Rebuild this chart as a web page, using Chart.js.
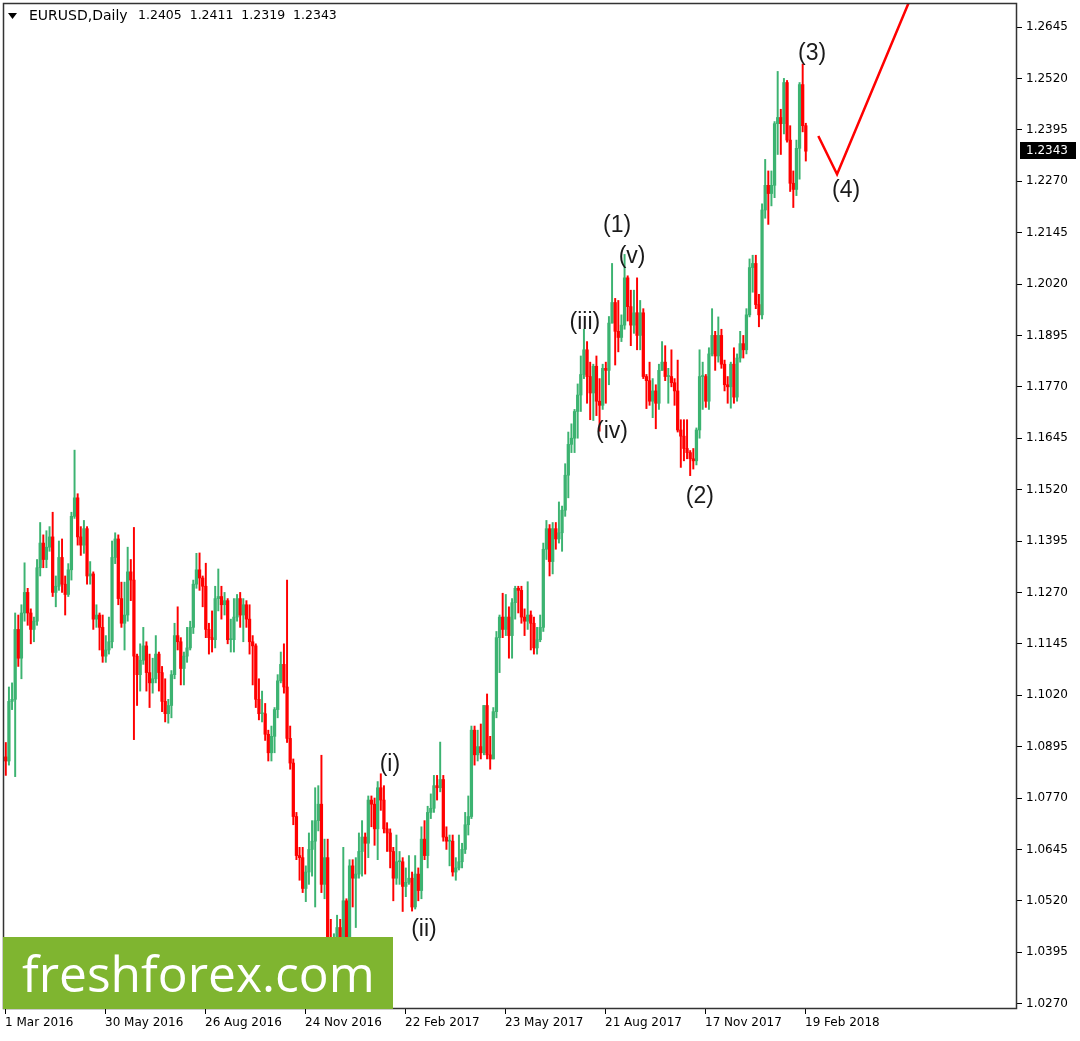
<!DOCTYPE html>
<html>
<head>
<meta charset="utf-8">
<title>EURUSD Daily</title>
<script src="https://cdn.jsdelivr.net/npm/chart.js@4.4.0/dist/chart.umd.min.js"></script>
<style>
  html, body { margin: 0; padding: 0; background: #fff; }
  canvas { display: block; }
</style>
</head>
<body>
<canvas id="grafico" width="1080" height="1041"></canvas>
<script>
// velas de 2 dias (apertura = cierre anterior)
var firstOpen = 1.0870;
var closes = [
  1.0860,1.1005,1.1010,1.1180,1.1110,1.1220,1.1270,1.1220,1.1180,1.1200,
  1.1330,1.1390,1.1350,1.1380,1.1405,1.1270,1.1285,1.1355,1.1290,1.1265,
  1.1325,1.1455,1.1500,1.1405,1.1385,1.1425,1.1310,1.1315,1.1205,1.1215,
  1.1185,1.1115,1.1130,1.1150,1.1355,1.1400,1.1255,1.1195,1.1215,1.1320,
  1.1300,1.1115,1.1070,1.1105,1.1140,1.1075,1.1050,1.1060,1.1120,1.1075,
  1.1005,1.0975,1.0995,1.1070,1.1165,1.1150,1.1085,1.1115,1.1135,1.1185,
  1.1290,1.1325,1.1305,1.1285,1.1180,1.1160,1.1155,1.1255,1.1260,1.1240,
  1.1250,1.1155,1.1155,1.1210,1.1255,1.1215,1.1240,1.1205,1.1150,1.1140,
  1.1010,1.0975,1.0975,1.0925,1.0880,1.0920,1.0985,1.1055,1.1095,1.1040,
  1.0915,1.0855,1.0725,1.0630,1.0625,1.0550,1.0590,1.0645,1.0665,1.0715,
  1.0755,1.0560,1.0625,1.0420,1.0395,1.0425,1.0455,1.0405,1.0520,1.0405,
  1.0605,1.0575,1.0585,1.0640,1.0675,1.0660,1.0765,1.0755,1.0695,1.0795,
  1.0765,1.0695,1.0685,1.0640,1.0575,1.0615,1.0615,1.0555,1.0565,1.0575,
  1.0505,1.0585,1.0545,1.0670,1.0630,1.0735,1.0745,1.0800,1.0795,1.0815,
  1.0675,1.0665,1.0665,1.0590,1.0600,1.0615,1.0645,1.0705,1.0725,1.0935,
  1.0875,1.0895,1.0880,1.0995,1.0875,1.0865,1.0980,1.1160,1.1210,1.1180,
  1.1210,1.1165,1.1245,1.1280,1.1275,1.1210,1.1200,1.1215,1.1195,1.1135,
  1.1155,1.1185,1.1375,1.1425,1.1345,1.1425,1.1400,1.1415,1.1470,1.1555,
  1.1630,1.1645,1.1710,1.1750,1.1800,1.1860,1.1795,1.1755,1.1820,1.1735,
  1.1725,1.1815,1.1810,1.1925,1.1975,1.1905,1.1890,1.1920,1.2035,1.1965,
  1.1920,1.1950,1.1895,1.1950,1.1795,1.1785,1.1735,1.1760,1.1730,1.1810,
  1.1830,1.1795,1.1795,1.1780,1.1760,1.1665,1.1650,1.1620,1.1610,1.1595,
  1.1590,1.1665,1.1795,1.1795,1.1735,1.1850,1.1895,1.1845,1.1895,1.1825,
  1.1775,1.1770,1.1825,1.1745,1.1840,1.1875,1.1860,1.1945,1.2060,1.2070,
  1.1970,1.1945,1.2200,1.2260,1.2240,1.2260,1.2410,1.2425,1.2410,1.2510,
  1.2370,1.2265,1.2250,1.2350,1.2505,1.2405,1.2343
];
var highs = [
  1.0905,1.1040,1.1050,1.1220,1.1215,1.1240,1.1342,1.1280,1.1230,1.1210,
  1.1350,1.1440,1.1410,1.1420,1.1430,1.1465,1.1310,1.1395,1.1400,1.1310,
  1.1340,1.1465,1.1616,1.1510,1.1430,1.1445,1.1430,1.1345,1.1320,1.1240,
  1.1220,1.1215,1.1165,1.1210,1.1395,1.1415,1.1410,1.1295,1.1295,1.1380,
  1.1350,1.1428,1.1120,1.1145,1.1185,1.1150,1.1120,1.1110,1.1165,1.1125,
  1.1090,1.1060,1.1010,1.1080,1.1195,1.1235,1.1160,1.1125,1.1185,1.1200,
  1.1300,1.1365,1.1366,1.1310,1.1341,1.1195,1.1225,1.1285,1.1327,1.1285,
  1.1270,1.1255,1.1205,1.1255,1.1265,1.1270,1.1255,1.1250,1.1240,1.1165,
  1.1145,1.1060,1.1030,1.1000,1.0935,1.0945,1.0990,1.1070,1.1125,1.1145,
  1.1300,1.0945,1.0865,1.0735,1.0650,1.0650,1.0605,1.0685,1.0715,1.0795,
  1.0800,1.0874,1.0670,1.0670,1.0475,1.0440,1.0485,1.0475,1.0650,1.0525,
  1.0620,1.0620,1.0625,1.0685,1.0715,1.0685,1.0775,1.0775,1.0770,1.0810,
  1.0829,1.0800,1.0710,1.0695,1.0650,1.0680,1.0640,1.0625,1.0600,1.0630,
  1.0590,1.0630,1.0600,1.0700,1.0715,1.0750,1.0780,1.0825,1.0825,1.0906,
  1.0825,1.0700,1.0680,1.0680,1.0625,1.0680,1.0660,1.0735,1.0775,1.0945,
  1.0945,1.0935,1.0950,1.0995,1.1023,1.0920,1.0990,1.1175,1.1215,1.1268,
  1.1265,1.1235,1.1255,1.1285,1.1285,1.1285,1.1230,1.1296,1.1225,1.1210,
  1.1185,1.1215,1.1390,1.1445,1.1435,1.1440,1.1440,1.1490,1.1480,1.1583,
  1.1660,1.1680,1.1715,1.1777,1.1845,1.1910,1.1880,1.1830,1.1825,1.1845,
  1.1790,1.1825,1.1830,1.1941,1.2070,1.1985,1.1980,1.1945,1.2092,1.2040,
  1.2005,1.2005,1.2035,1.1980,1.1960,1.1800,1.1830,1.1790,1.1775,1.1825,
  1.1880,1.1870,1.1815,1.1860,1.1790,1.1835,1.1690,1.1690,1.1690,1.1615,
  1.1620,1.1670,1.1860,1.1830,1.1800,1.1865,1.1960,1.1905,1.1940,1.1910,
  1.1835,1.1795,1.1830,1.1865,1.1850,1.1905,1.1895,1.1960,1.2081,1.2090,
  1.2090,1.1995,1.2215,1.2323,1.2295,1.2295,1.2415,1.2537,1.2445,1.2520,
  1.2515,1.2405,1.2295,1.2370,1.2510,1.2555,1.2411
];
var lows = [
  1.0825,1.0850,1.0985,1.0822,1.1090,1.1060,1.1200,1.1190,1.1145,1.1150,
  1.1190,1.1310,1.1330,1.1330,1.1370,1.1260,1.1235,1.1275,1.1270,1.1215,
  1.1260,1.1300,1.1450,1.1385,1.1360,1.1365,1.1290,1.1290,1.1180,1.1185,
  1.1130,1.1100,1.1100,1.1120,1.1135,1.1340,1.1240,1.1185,1.1130,1.1200,
  1.1250,1.0912,1.0995,1.1030,1.1095,1.1030,1.0990,1.1025,1.1050,1.1030,
  1.0980,1.0955,1.0952,1.0965,1.1060,1.1130,1.1045,1.1045,1.1100,1.1130,
  1.1170,1.1280,1.1275,1.1235,1.1160,1.1120,1.1125,1.1135,1.1225,1.1205,
  1.1215,1.1145,1.1125,1.1125,1.1200,1.1185,1.1150,1.1185,1.1120,1.1045,
  1.0990,1.0960,1.0955,1.0910,1.0860,1.0860,1.0880,1.0965,1.1050,1.1025,
  1.0905,1.0840,1.0705,1.0620,1.0570,1.0540,1.0518,1.0560,1.0580,1.0505,
  1.0690,1.0540,1.0525,1.0367,1.0390,1.0352,1.0410,1.0375,1.0395,1.0340,
  1.0390,1.0505,1.0455,1.0575,1.0580,1.0585,1.0625,1.0700,1.0655,1.0620,
  1.0740,1.0685,1.0640,1.0600,1.0520,1.0560,1.0560,1.0494,1.0530,1.0560,
  1.0495,1.0500,1.0520,1.0525,1.0620,1.0600,1.0720,1.0735,1.0765,1.0785,
  1.0665,1.0645,1.0605,1.0580,1.0570,1.0595,1.0600,1.0635,1.0680,1.0720,
  1.0850,1.0860,1.0865,1.0875,1.0865,1.0840,1.0865,1.0965,1.1075,1.1160,
  1.1165,1.1110,1.1110,1.1205,1.1220,1.1195,1.1165,1.1180,1.1130,1.1120,
  1.1120,1.1150,1.1175,1.1350,1.1310,1.1315,1.1375,1.1390,1.1370,1.1455,
  1.1500,1.1610,1.1610,1.1645,1.1710,1.1790,1.1730,1.1690,1.1688,1.1700,
  1.1662,1.1715,1.1730,1.1775,1.1925,1.1823,1.1855,1.1880,1.1910,1.1930,
  1.1870,1.1900,1.1860,1.1860,1.1790,1.1717,1.1725,1.1695,1.1668,1.1715,
  1.1810,1.1785,1.1730,1.1770,1.1725,1.1660,1.1574,1.1590,1.1595,1.1554,
  1.1570,1.1580,1.1645,1.1715,1.1720,1.1715,1.1845,1.1810,1.1830,1.1815,
  1.1760,1.1730,1.1718,1.1730,1.1735,1.1830,1.1840,1.1850,1.1940,1.2000,
  1.1960,1.1916,1.1935,1.2180,1.2165,1.2210,1.2230,1.2335,1.2335,1.2385,
  1.2365,1.2245,1.2206,1.2235,1.2275,1.2390,1.2319
];

// ejes
var xTickBars = [-0.25, 31.75, 63.75, 95.75, 127.75, 159.75, 191.75, 223.75, 255.75];
var xTickLabels = ['1 Mar 2016', '30 May 2016', '26 Aug 2016', '24 Nov 2016', '22 Feb 2017',
                   '23 May 2017', '21 Aug 2017', '17 Nov 2017', '19 Feb 2018'];
var yTickLabels = ['1.0270', '1.0395', '1.0520', '1.0645', '1.0770', '1.0895', '1.1020',
                   '1.1145', '1.1270', '1.1395', '1.1520', '1.1645', '1.1770', '1.1895',
                   '1.2020', '1.2145', '1.2270', '1.2395', '1.2520', '1.2645'];

// proyeccion roja y etiquetas de ondas
var forecastBars = [260, 266, 289.8];
var forecastPrices = [1.2380, 1.2287, 1.2720];
var waveLabels = ['(i)', '(ii)', '(iii)', '(iv)', '(v)', '(1)', '(2)', '(3)', '(4)'];
var waveBars = [122.9, 133.8, 185.3, 194.0, 200.4, 195.6, 222.1, 258.0, 268.9];
var wavePrices = [1.0850, 1.0451, 1.1925, 1.1660, 1.2086, 1.2161, 1.1502, 1.2579, 1.2246];

document.addEventListener('DOMContentLoaded', function(){

  var opens = [firstOpen].concat(closes.slice(0, closes.length - 1));
  var colUp = '#3cb371';
  var colDown = '#ff0000';

  var colores = [];
  var wicks = [];
  var bodies = [];
  for(var i=0;i<closes.length;i++){
    colores.push(closes[i] >= opens[i] ? colUp : colDown);
    wicks.push({x: i, y: [lows[i], highs[i]]});
    bodies.push({x: i, y: [opens[i], closes[i]]});
  }

  var forecast = [];
  for(var j=0;j<forecastBars.length;j++){
    forecast.push({x: forecastBars[j], y: forecastPrices[j]});
  }

  var last = closes.length - 1;
  var ohlcText = [opens[last], highs[last], lows[last], closes[last]].map(function(v){
    return v.toFixed(4);
  }).join('  ');

  var extras = {
    id: 'extras',
    beforeDraw: function(chart){
      var c = chart.ctx;
      c.save();
      c.fillStyle = '#fff';
      c.fillRect(0, 0, chart.width, chart.height);
      c.restore();
    },
    afterDraw: function(chart){
      var c = chart.ctx;
      var ca = chart.chartArea;
      var sx = chart.scales.x;
      var sy = chart.scales.y;
      c.save();

      //marco
      c.strokeStyle = '#333';
      c.lineWidth = 1.5;
      c.strokeRect(ca.left + 0.5, ca.top + 0.5, ca.right - ca.left - 1, ca.bottom - ca.top - 1);

      //titulo
      c.fillStyle = '#000';
      c.beginPath();
      c.moveTo(8, 13); c.lineTo(17, 13); c.lineTo(12.5, 19); c.closePath();
      c.fill();
      c.font = '14px "DejaVu Sans"';
      c.textBaseline = 'middle';
      c.textAlign = 'left';
      c.fillText('EURUSD,Daily', 29, 16);
      c.font = '12.5px "DejaVu Sans"';
      c.fillText(ohlcText, 138, 16);

      //etiquetas de ondas
      c.font = '23px "Liberation Sans"';
      c.fillStyle = '#1a1a1a';
      c.textAlign = 'center';
      for(var k=0;k<waveLabels.length;k++){
        c.fillText(waveLabels[k], sx.getPixelForValue(waveBars[k]), sy.getPixelForValue(wavePrices[k]));
      }

      //precio actual
      var py = sy.getPixelForValue(closes[last]);
      c.fillStyle = '#000';
      c.fillRect(ca.right + 3, Math.round(py) - 9, 56, 17);
      c.fillStyle = '#fff';
      c.font = '12px "DejaVu Sans"';
      c.textAlign = 'left';
      c.fillText(closes[last].toFixed(4), ca.right + 9, Math.round(py));

      //logo
      c.fillStyle = '#7fb530';
      c.fillRect(ca.left, 937, 390, ca.bottom - 937);
      var txt = 'freshforex.com';
      c.font = '50px "Open Sans"';
      var size = 50 * 353 / c.measureText(txt).width;
      c.font = size.toFixed(1) + 'px "Open Sans"';
      c.fillStyle = '#fff';
      c.textBaseline = 'alphabetic';
      c.fillText(txt, 22, 992);

      c.restore();
    }
  };

  var ctx = document.getElementById('grafico').getContext('2d');
  Chart.defaults.font.family = '"DejaVu Sans"';
  Chart.defaults.font.size = 12;
  Chart.defaults.color = '#000';

  var grafico = new Chart(ctx, {
    type: 'bar',
    data: {
      datasets: [
        {
          label: 'mechas',
          data: wicks,
          backgroundColor: colores,
          barThickness: 1.3,
          grouped: false
        },
        {
          label: 'cuerpos',
          data: bodies,
          backgroundColor: colores,
          barThickness: 2.6,
          minBarLength: 1,
          grouped: false
        },
        {
          type: 'line',
          label: 'proyeccion',
          data: forecast,
          borderColor: '#ff0000',
          borderWidth: 2.5,
          pointRadius: 0,
          tension: 0
        }
      ]
    },
    options: {
      responsive: false,
      animation: false,
      events: [],
      layout: { padding: { left: 3, top: 3, right: 0, bottom: 0 } },
      plugins: {
        legend: { display: false },
        tooltip: { enabled: false }
      },
      scales: {
        x: {
          type: 'linear',
          min: -0.896,
          max: 323.58,
          offset: false,
          grid: { offset: false, drawOnChartArea: false, tickLength: 5, color: '#000' },
          border: { display: false },
          ticks: {
            align: 'start',
            autoSkip: false,
            maxRotation: 0,
            padding: 2,
            callback: function(v, i){ return xTickLabels[i]; }
          },
          afterBuildTicks: function(s){
            s.ticks = xTickBars.map(function(v){ return {value: v}; });
          },
          afterFit: function(s){
            s.height = 32;
            s.paddingLeft = 0;
            s.paddingRight = 0;
          }
        },
        y: {
          position: 'right',
          min: 1.02569,
          max: 1.27034,
          grid: { drawOnChartArea: false, tickLength: 5, color: '#000' },
          border: { display: false },
          ticks: {
            autoSkip: false,
            padding: 4,
            callback: function(v, i){ return yTickLabels[i]; }
          },
          afterBuildTicks: function(s){
            s.ticks = yTickLabels.map(function(t){ return {value: parseFloat(t)}; });
          },
          afterFit: function(s){
            s.width = 63;
            s.paddingTop = 0;
            s.paddingBottom = 0;
          }
        }
      }
    },
    plugins: [extras]
  });

});
</script>
</body>
</html>
